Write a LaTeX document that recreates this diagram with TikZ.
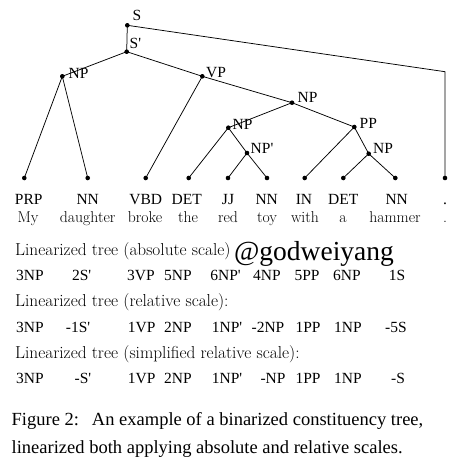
\documentclass[tikz,border=0pt]{standalone}
\usepackage{fontspec}
\setmainfont{Liberation Serif}[Ligatures=TeXOff]
\newcommand\lmfont{\fontfamily{lmr}\selectfont}
\begin{document}
\begin{tikzpicture}[x=1pt,y=-1pt,
  dot/.style={circle,fill=black,inner sep=0pt,minimum size=4.6pt},
  edge/.style={line width=0.75pt},
  lab/.style={anchor=west,inner sep=0pt,font=\fontsize{15.5}{17}\selectfont},
  tag/.style={anchor=base,inner sep=0pt,font=\fontsize{15.5}{17}\selectfont},
  word/.style={anchor=base,inner sep=0pt,font=\lmfont\fontsize{15.7}{17}\selectfont},
  head/.style={anchor=base west,inner sep=0pt,font=\lmfont\fontsize{17.3}{19}\selectfont},
  num/.style={anchor=base,inner sep=0pt,font=\fontsize{15.5}{17}\selectfont},
  captext/.style={anchor=base west,inner sep=0pt,font=\fontsize{18.5}{22}\selectfont}]
\useasboundingbox[fill=white] (0,0) rectangle (461,463);
% internal nodes
\node[dot] (S) at (127.3,25.3) {};
\node[dot] (Sp) at (126.7,51.7) {};
\node[dot] (NPa) at (62.3,76.3) {};
\node[dot] (VP) at (202.3,76.3) {};
\node[dot] (NPb) at (292,102.7) {};
\node[dot] (NPc) at (228.3,127.7) {};
\node[dot] (PP) at (354.3,127) {};
\node[dot] (NPp) at (247,153) {};
\node[dot] (NPd) at (368.7,153.7) {};
\coordinate (corner) at (445,71.7);
% leaves
\foreach \i/\x in {1/24.3,2/87.7,3/145.7,4/188.7,5/228,6/267,7/304.7,8/343.3,9/395.3,10/445}
  \node[dot] (L\i) at (\x,178) {};
% edges
\draw[edge] (S.center) -- (Sp.center);
\draw[edge] (S.center) -- (corner) -- (L10.center);
\draw[edge] (Sp.center) -- (NPa.center);
\draw[edge] (Sp.center) -- (VP.center);
\draw[edge] (NPa.center) -- (L1.center);
\draw[edge] (NPa.center) -- (L2.center);
\draw[edge] (VP.center) -- (L3.center);
\draw[edge] (VP.center) -- (NPb.center);
\draw[edge] (NPb.center) -- (NPc.center);
\draw[edge] (NPb.center) -- (PP.center);
\draw[edge] (NPc.center) -- (L4.center);
\draw[edge] (NPc.center) -- (NPp.center);
\draw[edge] (NPp.center) -- (L5.center);
\draw[edge] (NPp.center) -- (L6.center);
\draw[edge] (PP.center) -- (L7.center);
\draw[edge] (PP.center) -- (NPd.center);
\draw[edge] (NPd.center) -- (L8.center);
\draw[edge] (NPd.center) -- (L9.center);
% labels
\node[lab] (lS) at (132.5,15.5) {S};
\node[lab] (lSp) at (129.5,43.5) {S'};
\node[lab] (lNPa) at (68.5,73) {NP};
\node[lab] (lVP) at (206,73) {VP};
\node[lab] (lNPb) at (297.5,97) {NP};
\node[lab] (lNPc) at (232.5,124.5) {NP};
\node[lab] (lPP) at (359.5,123.5) {PP};
\node[lab] (lNPp) at (250.5,148.5) {NP'};
\node[lab] (lNPd) at (373,148.5) {NP};
% tags
\foreach \i/\x/\t in {1/28.7/PRP,2/87.7/NN,3/145.7/VBD,4/186.7/DET,5/228/JJ,6/266.7/NN,7/304/IN,8/343.3/DET,9/396.7/NN,10/445/.}
  \node[tag] (T\i) at (\x,204) {\t};
% words
\foreach \i/\x/\t in {1/28/My,2/87.7/daughter,3/145/broke,4/188/the,5/228/red,6/267/toy,7/305/with,8/343/a,9/395/hammer,10/445/.}
  \node[word] (W\i) at (\x,222.7) {\t};
% linearized
\node[head] (h1) at (15,255.7) {Linearized tree (absolute scale)};
\node[anchor=base,inner sep=0pt,font=\fontsize{27.5}{30}\selectfont] (wm) at (314,260.5) {@godweiyang};
\foreach \i/\x/\t in {1/30/3NP,2/81.7/2S',3/141/3VP,4/178/5NP,5/225.5/6NP',6/267/4NP,7/307/5PP,8/347/6NP,9/397/1S}
  \node[num] (A\i) at (\x,280.7) {\t};
\node[head] (h2) at (15,306.7) {Linearized tree (relative scale):};
\foreach \i/\x/\t in {1/30/3NP,2/78/-1S',3/141.7/1VP,4/178/2NP,5/227/1NP',6/268/-2NP,7/308/1PP,8/348/1NP,9/396/-5S}
  \node[num] (B\i) at (\x,332.7) {\t};
\node[head] (h3) at (15,358.3) {Linearized tree (simplified relative scale):};
\foreach \i/\x/\t in {1/30/3NP,2/83/-S',3/141.7/1VP,4/178/2NP,5/227/1NP',6/273/-NP,7/308/1PP,8/348/1NP,9/398/-S}
  \node[num] (C\i) at (\x,383.3) {\t};
% caption
\node[captext] (c1) at (11.5,425) {Figure 2:\hspace{0.7em}An example of a binarized constituency tree,};
\node[captext] (c2) at (11.5,453) {linearized both applying absolute and relative scales.};
\end{tikzpicture}
\end{document}
